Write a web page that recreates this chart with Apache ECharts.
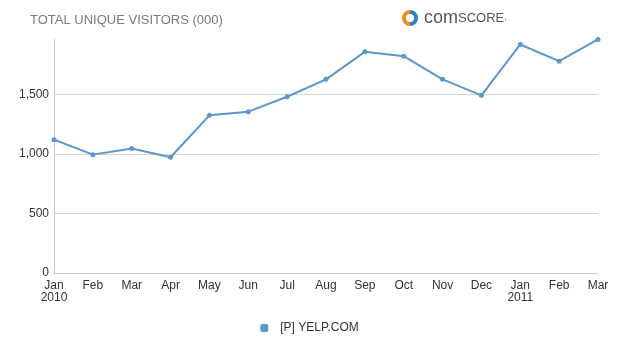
<!DOCTYPE html>
<html>
<head>
<meta charset="utf-8">
<script src="https://cdn.jsdelivr.net/npm/echarts@6/dist/echarts.min.js"></script>
<style>
  html, body { margin: 0; padding: 0; background: #fff; }
  #chart { width: 619px; height: 351px; }
</style>
</head>
<body>
<div id="chart"></div>
<script>
  // months, Jan 2010 .. Mar 2011
  var months = ['Jan\n2010', 'Feb', 'Mar', 'Apr', 'May', 'Jun', 'Jul', 'Aug',
    'Sep', 'Oct', 'Nov', 'Dec', 'Jan\n2011', 'Feb', 'Mar'];
  // total unique visitors (000)
  var yelpVisitors = [1120, 994, 1045, 972, 1324, 1355, 1480, 1626,
    1857, 1821, 1626, 1492, 1919, 1779, 1961];
  var yTicks = [0, 500, 1000, 1500];

  var chart = echarts.init(document.getElementById('chart'));

  chart.setOption({
    animation: false,
    textStyle: {fontFamily: 'Liberation Sans, Arial, sans-serif'},
    title: {
      text: 'TOTAL UNIQUE VISITORS (000)',
      left: 25,
      top: 9,
      textStyle: {color: '#7a7a7a', fontSize: 13, fontWeight: 'normal'}
    },
    // comScore logo
    graphic: [
      {
        type: 'arc',
        shape: {cx: 410, cy: 18, r: 6, startAngle: Math.PI * 0.5, endAngle: Math.PI * 1.5},
        style: {stroke: '#f08a1c', lineWidth: 4, fill: null}
      },
      {
        type: 'arc',
        shape: {cx: 410, cy: 18, r: 6, startAngle: -Math.PI * 0.5, endAngle: Math.PI * 0.5},
        style: {stroke: '#2f7fc1', lineWidth: 4, fill: null}
      },
      {
        type: 'text',
        left: 424,
        top: 9,
        style: {
          text: '{a|com}{b|SCORE}{c|.}',
          rich: {
            a: {fontSize: 18, fill: '#555', fontFamily: 'Liberation Sans, Arial'},
            b: {fontSize: 13, fill: '#555', fontFamily: 'Liberation Sans, Arial'},
            c: {fontSize: 9, fill: '#555'}
          }
        }
      }
    ],
    legend: {
      bottom: 12,
      left: 'center',
      icon: 'roundRect',
      itemWidth: 8,
      itemHeight: 8,
      itemGap: 10,
      textStyle: {color: '#333', fontSize: 12, padding: [0, 0, 0, 7]},
      data: ['[P] YELP.COM']
    },
    grid: {
      left: 54,
      right: 21,
      top: 39,
      bottom: 78
    },
    xAxis: {
      type: 'category',
      data: months,
      boundaryGap: false,
      axisLine: {lineStyle: {color: '#c8c8c8'}},
      axisTick: {show: false},
      axisLabel: {color: '#333', fontSize: 12, margin: 7, lineHeight: 12, interval: 0}
    },
    yAxis: {
      type: 'value',
      min: 0,
      max: 1965,
      interval: 500,
      axisLine: {show: true, lineStyle: {color: '#c8c8c8'}},
      axisTick: {show: false},
      axisLabel: {
        color: '#333',
        fontSize: 12,
        margin: 5,
        showMaxLabel: false,
        formatter: function (v) {
          return yTicks.indexOf(v) >= 0 ? v.toLocaleString('en-US') : '';
        }
      },
      splitLine: {
        lineStyle: {color: ['#d4d4d4', '#d4d4d4', '#d4d4d4', '#d4d4d4', 'rgba(0,0,0,0)']}
      }
    },
    series: [{
      name: '[P] YELP.COM',
      type: 'line',
      data: yelpVisitors,
      symbol: 'circle',
      symbolSize: 5,
      itemStyle: {color: '#5b97cc'},
      lineStyle: {color: '#5b97cc', width: 2}
    }]
  });
</script>
</body>
</html>
